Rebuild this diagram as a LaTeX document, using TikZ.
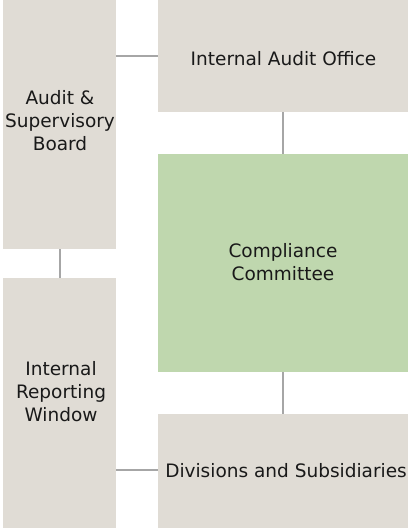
\documentclass[tikz,border=0pt]{standalone}
\usepackage{fontspec}
\setmainfont{DejaVu Sans}
\definecolor{boxgrey}{HTML}{E0DCD5}
\definecolor{boxgreen}{HTML}{BFD7AE}
\definecolor{linegrey}{HTML}{A6A6A6}
\begin{document}
\begin{tikzpicture}[x=1pt,y=-1pt,
  greybox/.style={fill=boxgrey,draw=none},
  greenbox/.style={fill=boxgreen,draw=none},
  lbl/.style={align=center,font=\fontsize{18.5}{23}\selectfont,text=black!90,inner sep=0pt},
  conn/.style={draw=linegrey,line width=1.2pt}]
\useasboundingbox (0,0) rectangle (411,528);
% boxes
\path[greybox] (3,0) rectangle (116,249) coordinate (asbBR);
\path[greybox] (3,278) rectangle (116,528);
\path[greybox] (158,0) rectangle (408,112);
\path[greenbox] (158,154) rectangle (408,372);
\path[greybox] (158,414) rectangle (408,528);
% anchor nodes for connectors
\coordinate (asbR) at (116,56);
\coordinate (asbB) at (60,249);
\coordinate (irwT) at (60,278);
\coordinate (irwR) at (116,470);
\coordinate (iaoL) at (158,56);
\coordinate (iaoB) at (283,112);
\coordinate (ccT) at (283,154);
\coordinate (ccB) at (283,372);
\coordinate (dsT) at (283,414);
\coordinate (dsL) at (158,470);
% labels
\node[lbl] (asb) at (60,121) {Audit \&\\Supervisory\\Board};
\node[lbl] (irw) at (61,392) {Internal\\Reporting\\Window};
\node[lbl] (iao) at (283.5,59) {Internal Audit Office};
\node[lbl] (cc) at (283,262) {Compliance\\Committee};
\node[lbl] (ds) at (286,471) {Divisions and Subsidiaries};
% connectors
\draw[conn] (asbR) -- (iaoL);
\draw[conn] (asbB) -- (irwT);
\draw[conn] (iaoB) -- (ccT);
\draw[conn] (ccB) -- (dsT);
\draw[conn] (irwR) -- (dsL);
\end{tikzpicture}
\end{document}
